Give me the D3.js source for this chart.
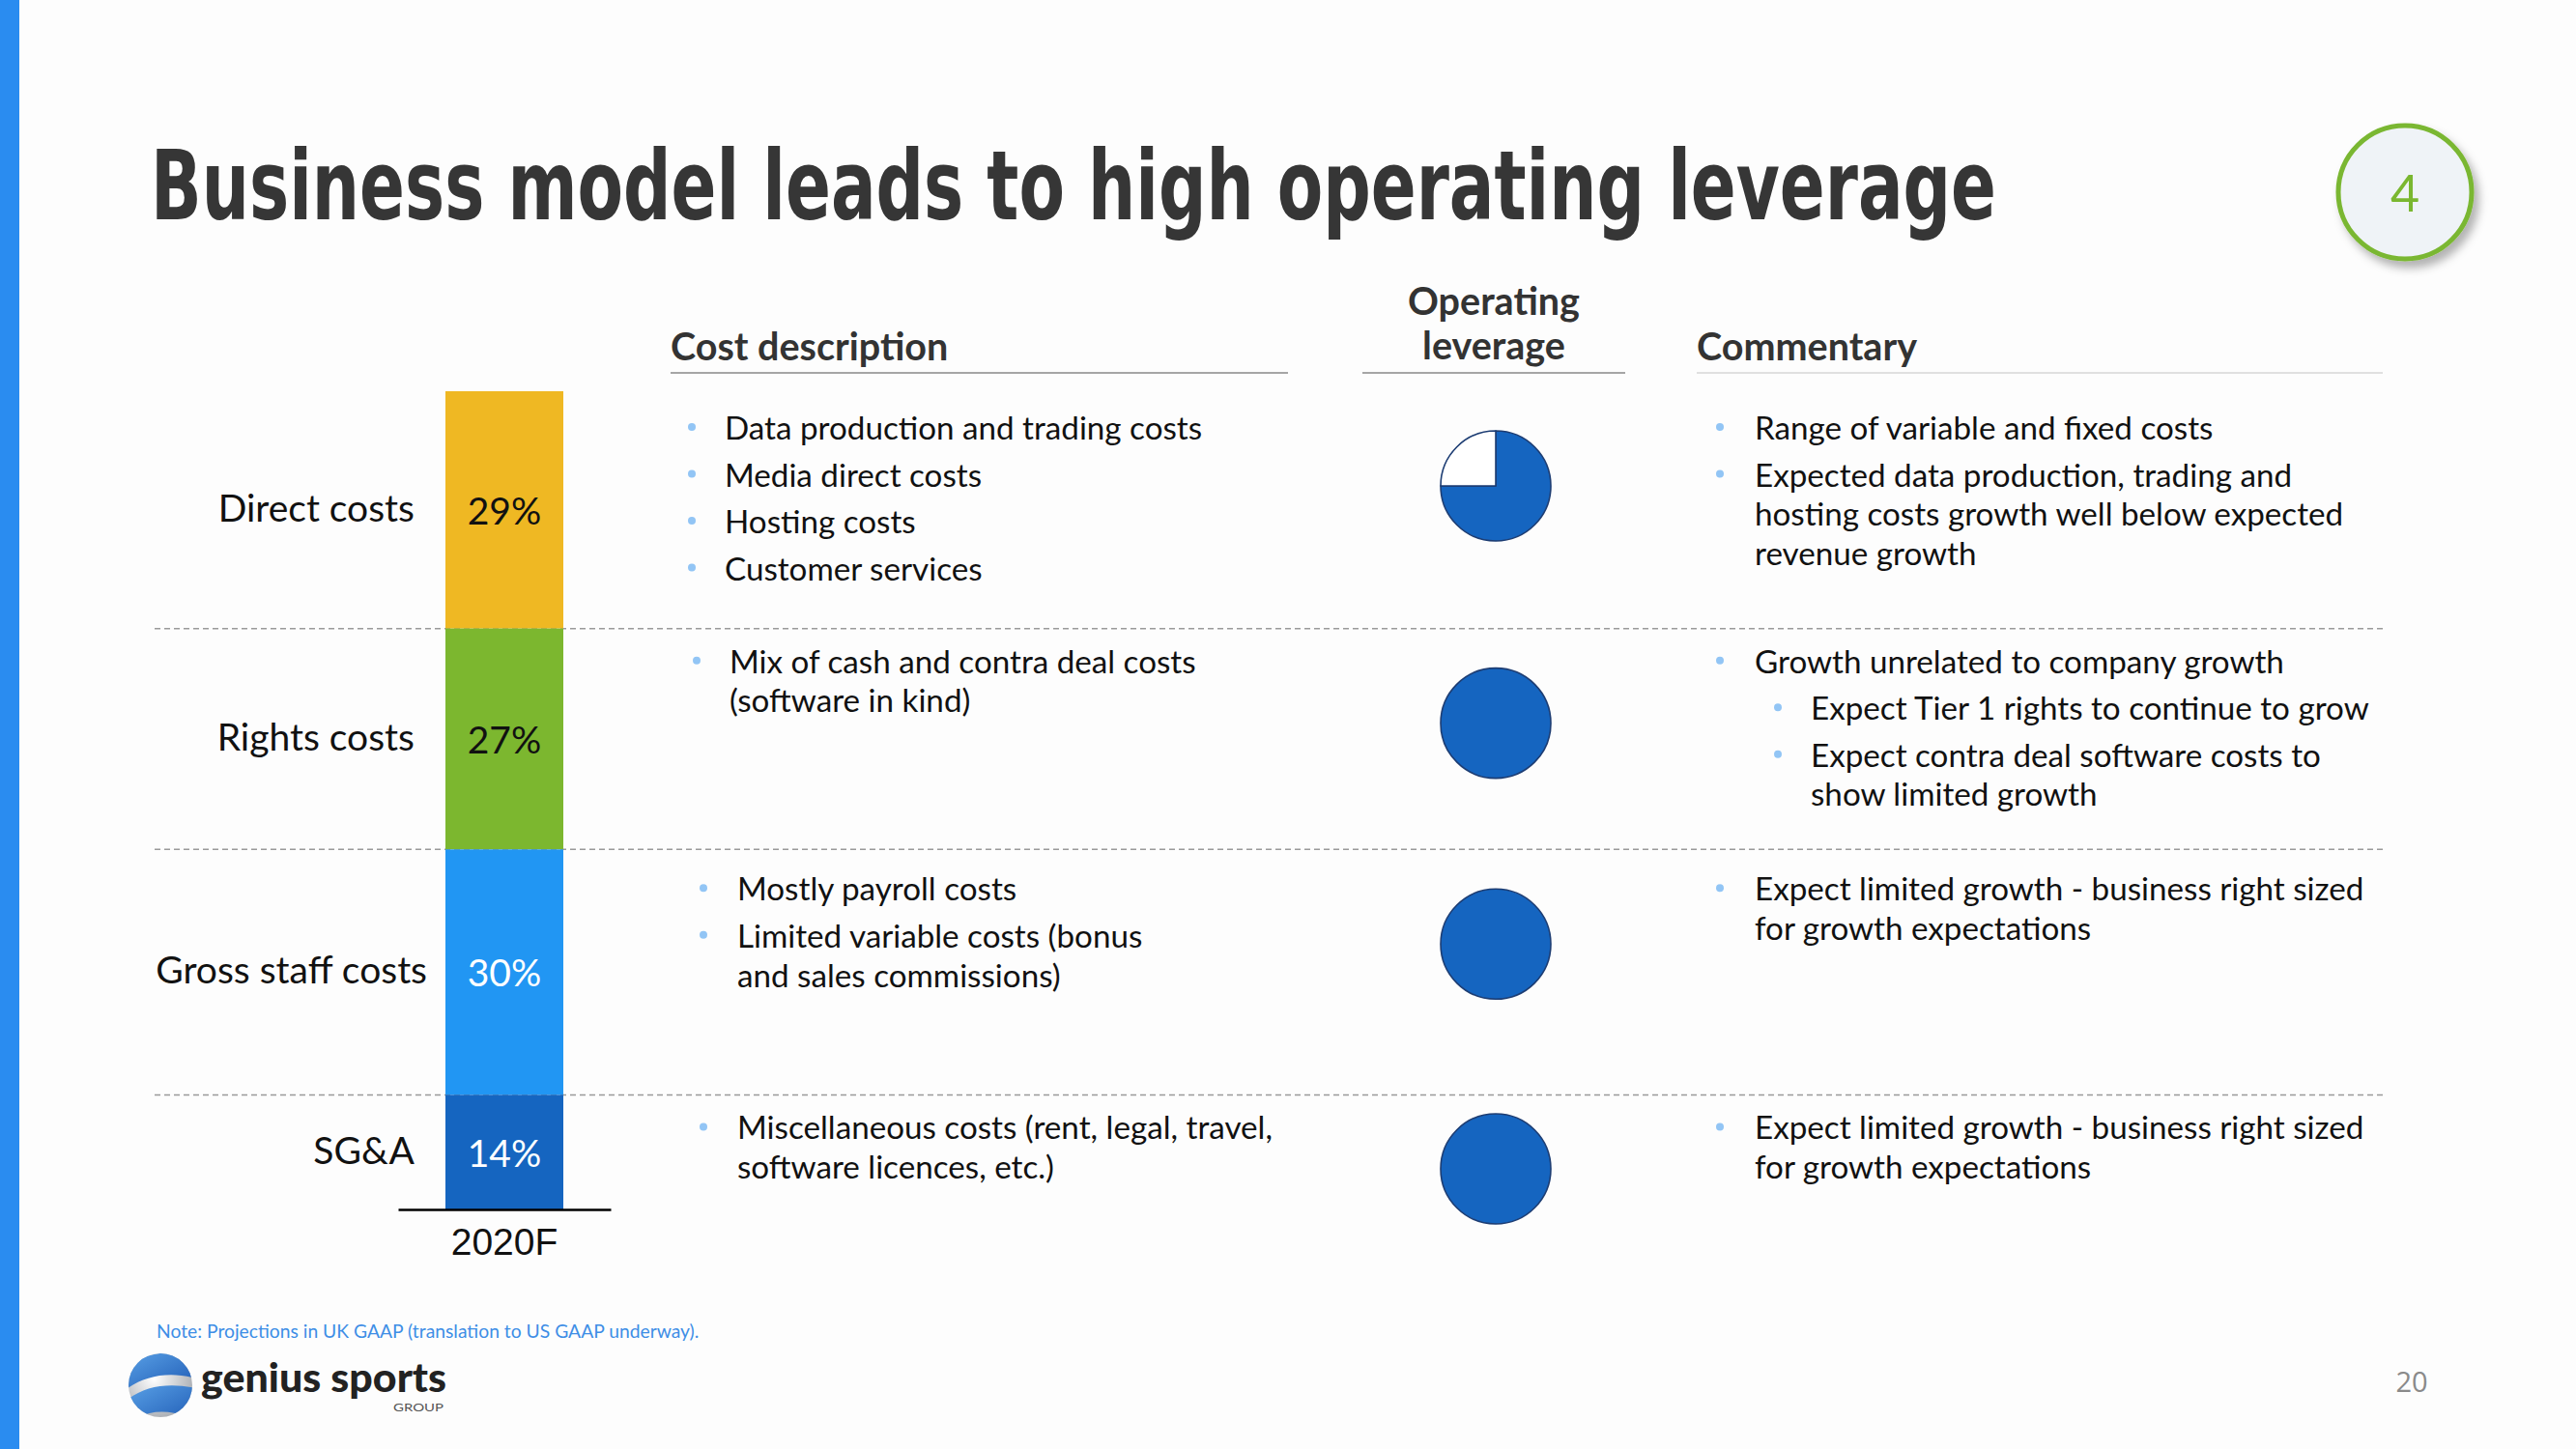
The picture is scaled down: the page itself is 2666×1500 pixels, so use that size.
<!DOCTYPE html>
<html>
<head>
<meta charset="utf-8">
<script src="https://cdn.jsdelivr.net/npm/d3@7"></script>
<style>
  html, body { margin: 0; padding: 0; background: #fdfdfd; }
  svg { display: block; }
</style>
</head>
<body>
<script>
// ---------- DATA ----------
const categories = ["Direct costs", "Rights costs", "Gross staff costs", "SG&A"];
const shares = [29, 27, 30, 14];
const shareLabels = ["29%", "27%", "30%", "14%"];
const barColors = ["#EFB823", "#7CB72F", "#2196F3", "#1565C0"];
const labelColors = ["#111111", "#111111", "#ffffff", "#ffffff"];
const periodLabel = "2020F";
const leverage = [0.75, 1, 1, 1];
const costDescriptions = [
  [["Data production and trading costs"], ["Media direct costs"], ["Hosting costs"], ["Customer services"]],
  [["Mix of cash and contra deal costs", "(software in kind)"]],
  [["Mostly payroll costs"], ["Limited variable costs (bonus", "and sales commissions)"]],
  [["Miscellaneous costs (rent, legal, travel,", "software licences, etc.)"]]
];
const commentary = [
  [{lvl: 0, lines: ["Range of variable and fixed costs"]},
   {lvl: 0, lines: ["Expected data production, trading and", "hosting costs growth well below expected", "revenue growth"]}],
  [{lvl: 0, lines: ["Growth unrelated to company growth"]},
   {lvl: 1, lines: ["Expect Tier 1 rights to continue to grow"]},
   {lvl: 1, lines: ["Expect contra deal software costs to", "show limited growth"]}],
  [{lvl: 0, lines: ["Expect limited growth - business right sized", "for growth expectations"]}],
  [{lvl: 0, lines: ["Expect limited growth - business right sized", "for growth expectations"]}]
];
const titleText = "Business model leads to high operating leverage";
const headers = {cost: "Cost description", lev: ["Operating", "leverage"], comm: "Commentary"};
const noteText = "Note: Projections in UK GAAP (translation to US GAAP underway).";
const pageNumber = "20";
const sectionNumber = "4";

// ---------- LAYOUT ----------
const W = 2666, H = 1500;
const svg = d3.select("body").append("svg").attr("width", W).attr("height", H);
const defs = svg.append("defs");

svg.append("rect").attr("width", W).attr("height", H).attr("fill", "#fdfdfd");
svg.append("rect").attr("x", 0).attr("y", 0).attr("width", 20).attr("height", H).attr("fill", "#2A8CF0");

// Title
svg.append("text").attr("x", 156).attr("y", 227)
  .attr("font-family", "'Liberation Sans Narrow', 'DejaVu Sans Condensed', sans-serif")
  .attr("font-weight", 700).attr("font-size", 100).attr("fill", "#363636")
  .attr("textLength", 1910).attr("lengthAdjust", "spacingAndGlyphs")
  .text(titleText);

// Badge
const shadow = defs.append("filter").attr("id", "sh").attr("x", "-30%").attr("y", "-30%").attr("width", "160%").attr("height", "160%");
shadow.append("feDropShadow").attr("dx", 5).attr("dy", 7).attr("stdDeviation", 5).attr("flood-color", "#000").attr("flood-opacity", 0.3);
svg.append("circle").attr("cx", 2489).attr("cy", 199).attr("r", 69)
  .attr("fill", "#EFF3F7").attr("stroke", "#7AB730").attr("stroke-width", 5).attr("filter", "url(#sh)");
svg.append("text").attr("x", 2489).attr("y", 219).attr("text-anchor", "middle")
  .attr("font-family", "Lato, sans-serif").attr("font-size", 52).attr("fill", "#7AB730")
  .text(sectionNumber);

// Bar scale
const y = d3.scaleLinear().domain([0, 100]).range([1252, 405]);
const totalTop = d3.sum(shares);
let acc = 0;
const segs = shares.map((v, i) => {
  const s = {i, top: y(totalTop - acc), bottom: y(totalTop - acc - v)};
  acc += v;
  return s;
});

const x = d3.scaleBand().domain([periodLabel]).range([412, 632]).paddingInner(0).paddingOuter(0.4016);

// dashed separators
const sepX0 = 160, sepX1 = 2469;
svg.append("g").selectAll("line").data(segs.slice(1)).join("line")
  .attr("x1", sepX0).attr("x2", sepX1)
  .attr("y1", d => d.top).attr("y2", d => d.top)
  .attr("stroke", "#9a9a9a").attr("stroke-width", 1.5).attr("stroke-dasharray", "6,4");

// bars
svg.append("g").selectAll("rect").data(segs).join("rect")
  .attr("x", x(periodLabel)).attr("width", x.bandwidth())
  .attr("y", d => d.top).attr("height", d => d.bottom - d.top)
  .attr("fill", d => barColors[d.i]);

svg.append("g").selectAll("text").data(segs).join("text")
  .attr("x", x(periodLabel) + x.bandwidth() / 2)
  .attr("y", d => (d.top + d.bottom) / 2)
  .attr("text-anchor", "middle").attr("dominant-baseline", "central")
  .attr("font-family", "Lato, sans-serif").attr("font-size", 39)
  .attr("fill", d => labelColors[d.i])
  .text(d => shareLabels[d.i]);

const labelRight = [429, 429, 442, 429];
svg.append("g").selectAll("text").data(segs).join("text")
  .attr("x", d => labelRight[d.i])
  .attr("y", d => (d.top + d.bottom) / 2 - 3)
  .attr("text-anchor", "end").attr("dominant-baseline", "central")
  .attr("font-family", "Lato, sans-serif").attr("font-size", 39).attr("fill", "#111")
  .text(d => categories[d.i]);

// x axis
const xAxis = svg.append("g").attr("transform", `translate(0,${y(0)})`)
  .call(d3.axisBottom(x).tickSize(0).tickPadding(19));
xAxis.select(".domain").attr("stroke", "#000").attr("stroke-width", 2.5);
xAxis.selectAll("text").attr("font-family", "'Liberation Sans', Arial, sans-serif")
  .attr("font-size", 39).attr("fill", "#111");

// Column headers
const hdrFont = "Lato, sans-serif", hdrSize = 39.5;
svg.append("text").attr("x", 694).attr("y", 357).attr("dominant-baseline", "central")
  .attr("font-family", hdrFont).attr("font-weight", 700).attr("font-size", hdrSize).attr("fill", "#333").text(headers.cost);
svg.append("line").attr("x1", 694).attr("x2", 1333).attr("y1", 386).attr("y2", 386).attr("stroke", "#888").attr("stroke-width", 1.5);
headers.lev.forEach((t, k) => {
  svg.append("text").attr("x", 1546).attr("y", 310 + k * 46).attr("text-anchor", "middle").attr("dominant-baseline", "central")
    .attr("font-family", hdrFont).attr("font-weight", 700).attr("font-size", hdrSize).attr("fill", "#333").text(t);
});
svg.append("line").attr("x1", 1410).attr("x2", 1682).attr("y1", 386).attr("y2", 386).attr("stroke", "#888").attr("stroke-width", 1.5);
svg.append("text").attr("x", 1756).attr("y", 357).attr("dominant-baseline", "central")
  .attr("font-family", hdrFont).attr("font-weight", 700).attr("font-size", hdrSize).attr("fill", "#333").text(headers.comm);
svg.append("line").attr("x1", 1756).attr("x2", 2466).attr("y1", 386).attr("y2", 386).attr("stroke", "#d6d6d6").attr("stroke-width", 1.5);

// Bullet text rendering
const bulletGap = 48.5, wrapGap = 40.8, bodySize = 33.2;
function drawBullets(g, items, y0) {
  let cy = y0;
  items.forEach((it, bi) => {
    if (bi > 0) cy += bulletGap;
    g.append("circle").attr("cx", it.bx).attr("cy", cy).attr("r", 4).attr("fill", "#92C5F5");
    it.lines.forEach((ln, li) => {
      if (li > 0) cy += wrapGap;
      g.append("text").attr("x", it.tx).attr("y", cy).attr("dominant-baseline", "central")
        .attr("font-family", "Lato, sans-serif").attr("font-size", bodySize).attr("fill", "#111").text(ln);
    });
  });
}
const costIndent = [[716, 750], [721, 755], [728, 763], [728, 763]];
const firstLineOffset = [37, 33, 40, 33];
segs.forEach((s, r) => {
  const g = svg.append("g");
  const y0 = s.top + firstLineOffset[r];
  drawBullets(g, costDescriptions[r].map(lines => ({bx: costIndent[r][0], tx: costIndent[r][1], lines})), y0);
  drawBullets(g, commentary[r].map(c => ({bx: c.lvl ? 1840 : 1780, tx: c.lvl ? 1874 : 1816, lines: c.lines})), y0);
});

// Pies
const pieGen = d3.pie().sort(null).value(d => d);
const arcGen = d3.arc().innerRadius(0).outerRadius(57);
segs.forEach((s, r) => {
  const cy = Math.min(s.top + 98, s.bottom - 42);
  const g = svg.append("g").attr("transform", `translate(1548,${cy})`);
  const v = leverage[r];
  const vals = v >= 1 ? [1] : [v, 1 - v];
  g.selectAll("path").data(pieGen(vals)).join("path")
    .attr("d", arcGen)
    .attr("fill", (d, k) => k === 0 ? "#1565C0" : "#ffffff")
    .attr("stroke", "#1D3D73").attr("stroke-width", 1.6).attr("stroke-linejoin", "round");
});

// Note
svg.append("text").attr("x", 162).attr("y", 1385)
  .attr("font-family", "Lato, sans-serif").attr("font-size", 19.3).attr("fill", "#3E8EE6").text(noteText);

// Logo
const gl = svg.append("g").attr("transform", "translate(166,1434)");
const rg = defs.append("radialGradient").attr("id", "globe").attr("cx", "40%").attr("cy", "40%").attr("r", "65%");
rg.append("stop").attr("offset", "0%").attr("stop-color", "#ffffff");
rg.append("stop").attr("offset", "100%").attr("stop-color", "#a9adb3");
const bg = defs.append("linearGradient").attr("id", "band").attr("x1", "0").attr("y1", "0").attr("x2", "1").attr("y2", "1");
bg.append("stop").attr("offset", "0%").attr("stop-color", "#5BA3E8");
bg.append("stop").attr("offset", "100%").attr("stop-color", "#1A55B0");
defs.append("clipPath").attr("id", "gclip").append("circle").attr("r", 33);
gl.append("circle").attr("r", 33).attr("fill", "url(#globe)");
const bands = gl.append("g").attr("clip-path", "url(#gclip)");
bands.append("path").attr("d", "M-40,-14 C-20,-34 10,-38 40,-30 L40,-6 C10,-16 -20,-10 -40,8 Z").attr("fill", "url(#band)");
bands.append("path").attr("d", "M-40,20 C-20,0 10,-4 40,4 L40,40 C10,20 -20,26 -40,44 Z").attr("fill", "url(#band)");
svg.append("text").attr("x", 208).attr("y", 1441)
  .attr("font-family", "Lato, sans-serif").attr("font-weight", 900).attr("font-size", 42).attr("fill", "#222")
  .attr("textLength", 254).attr("lengthAdjust", "spacingAndGlyphs").text("genius sports");
svg.append("text").attr("x", 407).attr("y", 1461)
  .attr("font-family", "Lato, sans-serif").attr("font-size", 12).attr("fill", "#555")
  .attr("textLength", 52).attr("lengthAdjust", "spacingAndGlyphs").text("GROUP");

// Page number
svg.append("text").attr("x", 2496).attr("y", 1441).attr("text-anchor", "middle")
  .attr("font-family", "'Open Sans', sans-serif").attr("font-size", 29).attr("fill", "#8a8a8a").text(pageNumber);
</script>
</body>
</html>
